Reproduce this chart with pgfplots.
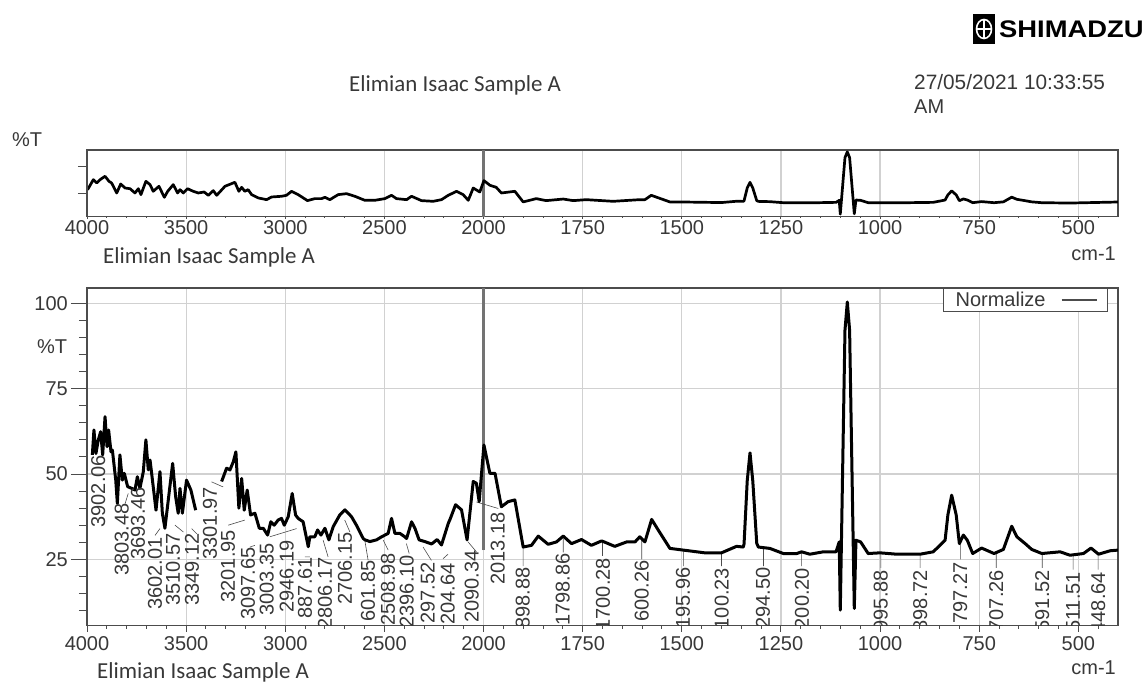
\documentclass[border=0pt]{standalone}
\usepackage{pgfplots}
\pgfplotsset{compat=1.18}
\usepackage{pgfplotstable}
\usepackage{fontspec}
\setmainfont{Liberation Sans}
\newfontfamily\narrowfont{Carlito}
\definecolor{ink}{gray}{0.22}
\definecolor{frame}{gray}{0.3}
\definecolor{gridc}{gray}{0.82}
\definecolor{cursorc}{gray}{0.45}
\pgfplotstableread{
w T
3973 55.6
3965 62.9
3955 56.0
3943 60.0
3931 62.4
3921 55.6
3909 66.8
3899 58.0
3891 62.9
3879 56.5
3872 57.0
3855 48.2
3847 41.4
3834 55.6
3822 48.2
3812 50.2
3795 46.3
3775 45.8
3758 45.3
3746 49.2
3733 45.8
3716 50.7
3703 60.0
3691 51.2
3682 54.1
3666 46.3
3652 39.4
3632 50.7
3620 38.5
3607 34.1
3590 42.4
3568 53.1
3553 43.4
3540 38.5
3531 45.8
3519 38.5
3498 48.2
3476 45.3
3452 39.4
3400 nan
3321 47.8
3296 51.7
3279 51.2
3262 53.6
3249 56.5
3234 40.0
3220 48.7
3207 39.4
3192 45.3
3175 38.0
3153 38.5
3131 34.1
3111 34.1
3089 32.1
3073 36.0
3056 35.0
3036 36.5
3019 37.0
3005 35.0
2985 37.5
2965 44.3
2948 38.0
2935 37.0
2910 36.0
2884 28.7
2876 31.6
2851 31.6
2837 33.6
2820 32.1
2800 34.1
2780 30.7
2758 34.6
2725 38.0
2699 39.5
2666 37.5
2641 35.0
2607 31.1
2598 30.7
2573 30.2
2540 30.7
2514 31.6
2481 32.6
2464 37.0
2447 32.6
2422 32.6
2397 31.6
2388 31.1
2363 36.0
2346 34.1
2325 30.7
2296 30.2
2262 29.5
2234 30.8
2212 29.2
2178 35.5
2167 37.0
2141 41.0
2111 39.5
2083 30.7
2052 47.8
2036 47.3
2022 41.9
1999 58.5
1984 50.2
1971 50.2
1955 40.4
1938 41.9
1921 42.4
1900 28.6
1879 29.1
1862 31.8
1837 29.4
1816 30.1
1799 31.8
1778 29.6
1753 30.8
1728 29.1
1702 30.4
1669 28.8
1639 30.1
1618 30.1
1606 31.6
1593 30.1
1576 36.7
1559 33.5
1530 28.2
1496 27.7
1442 26.9
1400 26.9
1362 28.8
1345 28.6
1343 29.5
1335 48.0
1328 56.2
1321 48.0
1311 29.7
1307 28.6
1278 28.2
1244 26.7
1210 26.7
1198 27.2
1177 26.5
1143 27.2
1111 27.2
1103 30.1
1100.3 10.1
1088.5 92.1
1082.6 100.4
1076.8 92.1
1065 10.6
1060.8 30.6
1049 30.1
1030 26.7
1000 26.9
958 26.5
899 26.5
866 27.2
849 29.1
836 30.6
829 38.0
819.4 43.8
808 38.0
800 29.6
790 32.1
780 30.6
766.4 26.7
744 28.3
712.6 26.7
689 27.9
668 34.7
655 31.6
634 29.6
617.6 27.9
592 26.7
546 27.2
521 26.2
487 26.7
468 28.3
449 26.5
420 27.5
400 27.7
}\mainspec
\pgfplotstableread{
w T
3997 45.6
3968 60.1
3951 55.3
3934 60.1
3909 65.0
3889 57.7
3876 55.3
3850 40.8
3830 53.8
3808 48.0
3783 47.0
3758 40.8
3741 47.0
3728 38.4
3703 57.7
3682 52.9
3666 43.2
3637 50.5
3610 34.5
3593 43.2
3565 52.9
3543 40.8
3531 45.6
3514 40.8
3493 47.0
3464 43.2
3439 40.8
3409 42.2
3388 37.4
3363 44.2
3346 37.4
3304 50.5
3254 56.3
3234 43.2
3220 49.0
3204 43.2
3187 45.6
3170 38.4
3136 33.6
3094 31.1
3069 35.0
3019 36.0
2994 37.4
2968 43.2
2935 38.4
2888 29.7
2851 32.6
2817 32.6
2800 34.5
2775 31.1
2733 38.4
2691 39.8
2649 36.0
2599 30.2
2548 30.2
2498 32.6
2464 37.4
2439 32.6
2388 31.1
2363 36.0
2313 29.7
2254 28.7
2212 31.1
2178 37.4
2136 43.2
2103 38.4
2077 30.2
2052 48.0
2019 42.2
1999 58.7
1984 52.0
1968 49.0
1955 40.8
1921 43.2
1900 27.8
1867 32.6
1842 29.7
1799 32.0
1774 29.7
1741 31.1
1673 28.7
1606 31.1
1593 31.1
1577 37.4
1530 27.8
1496 27.7
1400 26.9
1362 28.8
1345 28.6
1343 29.5
1335 48.0
1328 56.2
1321 48.0
1311 29.7
1307 28.6
1278 28.2
1244 26.7
1177 26.5
1111 27.2
1103 30.1
1100.3 10.1
1088.5 92.1
1082.6 100.4
1076.8 92.1
1065 10.6
1060.8 30.6
1049 30.1
1030 26.7
958 26.5
866 27.2
849 29.1
836 30.6
829 38.0
819.4 43.8
808 38.0
800 29.6
790 32.1
780 30.6
766.4 26.7
744 28.3
712.6 26.7
689 27.9
668 34.7
655 31.6
634 29.6
617.6 27.9
592 26.7
521 26.2
400 27.7
}\surveyspec
\pgfplotstableread{
w T
3792 44.3
3808 41.3
3800 nan
3632 34.0
3657 32.0
3650 nan
3556 35.0
3514 33.0
3500 nan
3472 34.0
3447 32.5
3440 nan
3372 47.7
3313 46.2
3300 nan
3288 35.0
3204 36.5
3200 nan
3178 28.6
3153 29.1
3150 nan
3078 31.6
2943 34.0
2940 nan
2901 25.7
2876 25.7
2870 nan
2809 30.6
2784 25.7
2780 nan
2700 36.5
2674 33.0
2670 nan
2599 30.6
2582 24.7
2580 nan
2506 30.6
2481 27.7
2480 nan
2389 29.6
2375 26.7
2370 nan
2305 28.6
2263 24.7
2260 nan
2204 25.2
2179 26.5
2170 nan
2078 30.1
2036 27.2
2035 nan
2036 41.8
1963 39.9
1950 nan
1900 28.6
1900 23.0
1899 nan
1799 31.0
1799 27.0
1798 nan
1700 30.0
1700 26.0
1699 nan
1601 31.0
1601 25.0
1600 nan
1496 27.7
1496 23.0
1495 nan
1400 26.9
1400 23.0
1399 nan
1294 28.0
1294 23.0
1293 nan
1198 27.0
1198 23.0
1197 nan
998 27.0
998 22.5
997 nan
899 26.5
899 22.5
898 nan
797 30.0
797 25.0
796 nan
707 26.7
707 22.5
706 nan
591 26.7
591 22.5
590 nan
513 26.5
513 22.0
512 nan
450 26.5
450 22.0
}\leaders
\pgfplotsset{
  breakaxis/.style={
    x coord trafo/.code={\pgfmathparse{##1>2000 ? -(2000+(##1-2000)/2) : -(##1)}},
    scale only axis, width=1031pt,
    xmin=4000, xmax=400,
    xtick={4000,3500,3000,2500,2000,1750,1500,1250,1000,750,500},
    xticklabels={4000,3500,3000,2500,2000,1750,1500,1250,1000,750,500},
    minor xtick={3900,3800,3700,3600,3400,3300,3200,3100,2900,2800,2700,2600,2400,2300,2200,2100,1950,1900,1850,1800,1700,1650,1600,1550,1450,1400,1350,1300,1200,1150,1100,1050,950,900,850,800,700,650,600,550,450},
    xmajorgrids, grid style={gridc, line width=1.2pt},
    xticklabel style={font=\fontsize{20}{22}\selectfont, text=ink, inner sep=0pt},
    tick align=outside, tick pos=left,
    major tick length=6pt, minor tick length=3pt,
    tick style={frame, line width=1pt},
    axis line style={frame, line width=1.2pt},
    unbounded coords=jump,
    clip=true,
  },
  yaxisover/.style={
    scale only axis, width=1031pt,
    xmin=0, xmax=1, hide x axis, axis y line*=left,
    xtick=\empty,
    yticklabel style={font=\fontsize{20}{22}\selectfont, text=ink, inner sep=0pt},
    tick align=outside, tick style={frame, line width=1pt},
    axis line style={frame, line width=1.2pt},
    /pgf/number format/assume math mode=true,
  },
}
\newcommand{\pk}[3]{\node[rotate=90, anchor=east, inner sep=0pt, text=ink, font=\fontsize{20}{22}\selectfont] at (axis cs:#1,#2) {#3};}
\begin{document}
\begin{tikzpicture}[x=1pt,y=1pt]
\fill[white] (0,0) rectangle (1146,686);
\path[use as bounding box] (0,0) rectangle (1146,686);

% logo
\fill[black] (973,642) rectangle (995,672);
\draw[white, line width=1.6pt] (984,657) ellipse (7.5 and 9.5);
\draw[white, line width=1.4pt] (976.5,657) -- (991.5,657) (984,647.5) -- (984,666.5);
\node[anchor=west, inner sep=0pt, font=\fontsize{24}{26}\selectfont\bfseries, xscale=1.14, text=black] at (999,657) {SHIMADZU};

% header texts
\node[anchor=west, inner sep=0pt, text=ink, font=\fontsize{22.9}{24}\selectfont\narrowfont] at (349,600.5) {Elimian Isaac Sample A};
\node[anchor=west, inner sep=0pt, text=ink, font=\fontsize{20.8}{22}\selectfont] at (914,603.5) {27/05/2021 10:33:55};
\node[anchor=west, inner sep=0pt, text=ink, font=\fontsize{20}{22}\selectfont] at (914,579) {AM};
\node[anchor=west, inner sep=0pt, text=ink, font=\fontsize{20}{22}\selectfont] at (12,546) {\%T};
\node[anchor=west, inner sep=0pt, text=ink, font=\fontsize{20}{22}\selectfont] at (37,339) {\%T};
\node[anchor=west, inner sep=0pt, text=ink, font=\fontsize{22.9}{24}\selectfont\narrowfont] at (103,428.5) {Elimian Isaac Sample A};
\node[anchor=west, inner sep=0pt, text=ink, font=\fontsize{22.9}{24}\selectfont\narrowfont] at (97,13.5) {Elimian Isaac Sample A};
\node[anchor=east, inner sep=0pt, text=ink, font=\fontsize{20}{22}\selectfont] at (1116,432) {cm-1};
\node[anchor=east, inner sep=0pt, text=ink, font=\fontsize{20}{22}\selectfont] at (1116,18) {cm-1};

% survey panel
\begin{axis}[breakaxis, at={(87pt,469.3pt)}, anchor=south west, height=66.7pt,
  ymin=6.4, ymax=103.1, ytick=\empty, tick pos=bottom,
  major tick length=2pt, minor tick length=1pt,
  xticklabel style={yshift=-2pt}]
\addplot[cursorc, line width=2.4pt, forget plot] coordinates {(2000,6.4) (2000,103.1)};
\addplot[black, line width=2.7pt, line join=round] table[x=w,y=T] {\surveyspec};
\end{axis}
\begin{axis}[yaxisover, at={(87pt,469.3pt)}, anchor=south west, height=66.7pt,
  ymin=6.4, ymax=103.1, ytick={40.3,79}, yticklabels={}, major tick length=9pt]
\end{axis}

% main panel
\begin{axis}[breakaxis, at={(87pt,60.3pt)}, anchor=south west, height=337.7pt,
  ymin=5.55, ymax=104.5, ytick={25,50,75,100}, yticklabels={},
  ytick style={draw=none}, ymajorgrids,
  xticklabel style={yshift=-5pt},
  legend plot pos=right,
  legend style={at={(0.990,1)}, anchor=north east, draw=frame, line width=1pt, fill=white,
    font=\fontsize{20}{22}\selectfont, text=ink, inner xsep=10pt, inner ysep=1.5pt, row sep=0pt},
  legend image code/.code={\path[draw=none] (0pt,0pt) -- (14pt,0pt); \draw[frame, line width=1.2pt] (14pt,0pt) -- (49pt,0pt);}]
\addplot[cursorc, line width=2.4pt, forget plot] coordinates {(2000,27.7) (2000,104.5)};
\addplot[frame, line width=0.6pt, forget plot] table[x=w,y=T] {\leaders};
\addplot[black, line width=3pt, line join=round, forget plot] table[x=w,y=T] {\mainspec};
\addlegendimage{frame}
\addlegendentry{Normalize}
\pk{3943}{55.6}{3902.06}
\pk{3825}{41.5}{3803.48}
\pk{3743}{46.2}{3693.46}
\pk{3657}{31.5}{3602.01}
\pk{3566}{32.7}{3510.57}
\pk{3471}{32.7}{3349.12}
\pk{3380}{46.2}{3301.97}
\pk{3289}{33.6}{3201.95}
\pk{3188}{28.6}{3097.65}
\pk{3093}{29.8}{3003.35}
\pk{2992}{30.7}{2946.19}
\pk{2901}{25.7}{887.61}
\pk{2800}{25.7}{2806.17}
\pk{2699}{33.0}{2706.15}
\pk{2583}{24.8}{601.85}
\pk{2482}{26.8}{2508.98}
\pk{2387}{26.3}{2396.10}
\pk{2281}{24.2}{297.52}
\pk{2180}{23.9}{204.64}
\pk{2059}{27.7}{2090.34}
\pk{1964}{38.9}{2013.18}
\pk{1901}{22.7}{898.88}
\pk{1800}{26.8}{1798.86}
\pk{1699}{25.4}{1700.28}
\pk{1601}{24.8}{600.26}
\pk{1497}{22.7}{195.96}
\pk{1399}{22.5}{100.23}
\pk{1295}{22.7}{294.50}
\pk{1197}{22.5}{200.20}
\pk{998}{21.9}{995.88}
\pk{899}{21.9}{898.72}
\pk{798}{24.2}{797.27}
\pk{707}{21.9}{707.26}
\pk{591}{21.9}{591.52}
\pk{513}{21.3}{511.51}
\pk{450}{21.3}{448.64}
\end{axis}
\begin{axis}[yaxisover, at={(87pt,60.3pt)}, anchor=south west, height=337.7pt,
  ymin=5.55, ymax=104.5, ytick={25,50,75,100}, minor ytick={10,15,20,30,35,40,45,55,60,65,70,80,85,90,95},
  major tick length=16pt, minor tick length=8pt, yticklabel style={xshift=-3pt}]
\end{axis}
\end{tikzpicture}
\end{document}
